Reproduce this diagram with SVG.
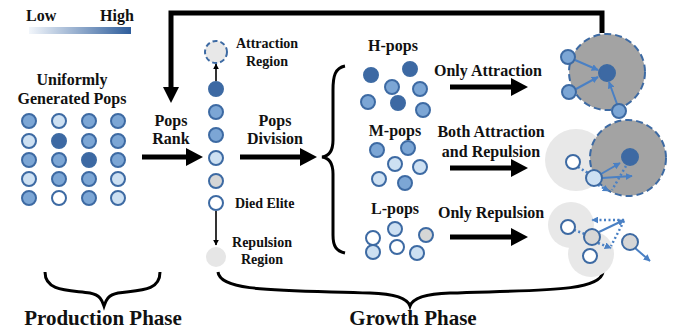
<svg xmlns="http://www.w3.org/2000/svg" width="686" height="334" viewBox="0 0 686 334">
<defs>
<linearGradient id="grad" x1="0" y1="0" x2="1" y2="0">
<stop offset="0" stop-color="#f2f6fb"/>
<stop offset="1" stop-color="#2f5e9c"/>
</linearGradient>
<marker id="ab" viewBox="0 0 10 10" refX="9" refY="5" markerWidth="6" markerHeight="6" orient="auto" markerUnits="userSpaceOnUse"><path d="M0,0 L10,5 L0,10 z" fill="#000"/></marker>
<marker id="ablue" viewBox="0 0 10 10" refX="9" refY="5" markerWidth="7" markerHeight="7" orient="auto" markerUnits="userSpaceOnUse"><path d="M0,0 L10,5 L0,10 z" fill="#4a80c4"/></marker>
</defs>
<style>
text{font-family:"Liberation Serif","Times New Roman",serif;font-weight:bold;fill:#111;}
.t16{font-size:16px;}
.t14{font-size:14px;}
.t21{font-size:21px;}
.p{stroke:#3d6aa3;stroke-width:2;}
.dk{fill:#3d69a3;}
.md{fill:#7ca6d5;}
.lt{fill:#cde0f2;}
.wh{fill:#ffffff;}
.gr{fill:#d6d6d6;}
.big{stroke:#000;stroke-width:5;fill:none;}
.brace{stroke:#000;stroke-width:3;fill:none;}
.ba{stroke:#4a80c4;stroke-width:2;fill:none;}
.bd{stroke:#4a80c4;stroke-width:2.5;fill:none;stroke-dasharray:2 2.5;}
.lreg{fill:#e8e8e8;}
.dreg{fill:#a3a3a3;stroke:#3d6aa3;stroke-width:2;stroke-dasharray:7 4;}
</style>

<g id="legend">
<text class="t16" x="26" y="21">Low</text>
<text class="t16" x="100" y="21">High</text>
<rect x="29" y="27" width="102" height="7" fill="url(#grad)"/>
</g>

<g id="connectors">
<path class="big" d="M602,33 V13 H171 V88"/>
<polygon points="163,87 179,87 171,103" fill="#000"/>
<line class="big" x1="142" y1="157" x2="188" y2="157"/>
<polygon points="186,148 203,157 186,166" fill="#000"/>
<line class="big" x1="240" y1="157" x2="302" y2="157"/>
<polygon points="300,148 317,157 300,166" fill="#000"/>
<line class="big" x1="450" y1="87" x2="513" y2="87"/>
<polygon points="511,78 528,87 511,96" fill="#000"/>
<line class="big" x1="450" y1="168" x2="513" y2="168"/>
<polygon points="511,159 528,168 511,177" fill="#000"/>
<line class="big" x1="450" y1="237" x2="513" y2="237"/>
<polygon points="511,228 528,237 511,246" fill="#000"/>
<line x1="216" y1="81" x2="216" y2="64" stroke="#000" stroke-width="1.6" marker-end="url(#ab)"/>
<line x1="216" y1="211" x2="216" y2="245" stroke="#000" stroke-width="1.6" marker-end="url(#ab)"/>
<path class="brace" d="M345,66 C335,68 333,76 333,90 V140 C333,150 330,156 322,157 C330,158 333,164 333,174 V235 C333,246 336,251 345,253"/>
<path class="brace" d="M45,272 C45,292 70,290 90,293 C100,295 102,300 104,306 C106,300 108,295 118,293 C138,290 160,292 160,272"/>
<path class="brace" d="M218,272 C220,292 280,290 370,293 C400,294 408,300 410,306 C412,300 420,294 450,293 C540,290 600,292 603,272"/>
</g>

<g id="production">
<text class="t16" x="72" y="85" text-anchor="middle">Uniformly</text>
<text class="t16" x="72" y="104" text-anchor="middle">Generated Pops</text>
<g class="p">
<circle class="md" cx="29" cy="121" r="7"/><circle class="lt" cx="59" cy="121" r="7"/><circle class="md" cx="89" cy="121" r="7"/><circle class="md" cx="118" cy="121" r="7"/>
<circle class="lt" cx="29" cy="141" r="7"/><circle class="dk" cx="59" cy="141" r="7"/><circle class="md" cx="89" cy="141" r="7"/><circle class="md" cx="118" cy="141" r="7"/>
<circle class="md" cx="29" cy="160" r="7"/><circle class="md" cx="59" cy="160" r="7"/><circle class="dk" cx="89" cy="160" r="7"/><circle class="md" cx="118" cy="160" r="7"/>
<circle class="lt" cx="29" cy="179" r="7"/><circle class="md" cx="59" cy="179" r="7"/><circle class="md" cx="89" cy="179" r="7"/><circle class="lt" cx="118" cy="179" r="7"/>
<circle class="md" cx="29" cy="198" r="7"/><circle class="wh" cx="59" cy="198" r="7"/><circle class="md" cx="89" cy="198" r="7"/><circle class="lt" cx="118" cy="198" r="7"/>
</g>
<text class="t16" x="171" y="126" text-anchor="middle">Pops</text>
<text class="t16" x="171" y="144" text-anchor="middle">Rank</text>
</g>

<g id="ranking">
<circle cx="216" cy="52" r="11" fill="#e8e8e8" stroke="#3d6aa3" stroke-width="2" stroke-dasharray="5 3"/>
<g class="p">
<circle class="dk" cx="216" cy="89" r="7"/>
<circle class="md" cx="216" cy="112" r="7"/>
<circle class="md" cx="216" cy="135" r="7"/>
<circle class="lt" cx="216" cy="158" r="7"/>
<circle class="gr" cx="216" cy="181" r="7"/>
<circle class="wh" cx="216" cy="203" r="7"/>
</g>
<circle cx="216" cy="257" r="10" fill="#e6e6e6"/>
<text class="t14" x="267" y="48" text-anchor="middle">Attraction</text>
<text class="t14" x="267" y="66" text-anchor="middle">Region</text>
<text class="t14" x="235" y="208">Died Elite</text>
<text class="t14" x="262" y="247" text-anchor="middle">Repulsion</text>
<text class="t14" x="262" y="264" text-anchor="middle">Region</text>
<text class="t16" x="275" y="126" text-anchor="middle">Pops</text>
<text class="t16" x="275" y="144" text-anchor="middle">Division</text>
</g>

<g id="hpops">
<text class="t16" x="393" y="51" text-anchor="middle">H-pops</text>
<g class="p">
<circle class="dk" cx="371" cy="75" r="7"/><circle class="dk" cx="410" cy="69" r="7"/>
<circle class="md" cx="392" cy="87" r="7"/><circle class="md" cx="420" cy="89" r="7"/>
<circle class="md" cx="368" cy="102" r="7"/><circle class="dk" cx="398" cy="103" r="7"/>
<circle class="md" cx="423" cy="110" r="7"/>
</g>
<text class="t16" x="434" y="76">Only Attraction</text>
</g>

<g id="mpops">
<text class="t16" x="395" y="136" text-anchor="middle">M-pops</text>
<g class="p">
<circle class="md" cx="377" cy="150" r="7"/><circle class="md" cx="408" cy="148" r="7"/>
<circle class="lt" cx="395" cy="164" r="7"/><circle class="lt" cx="420" cy="167" r="7"/>
<circle class="lt" cx="379" cy="179" r="7"/><circle class="md" cx="405" cy="183" r="7"/>
</g>
<text class="t16" x="491" y="137" text-anchor="middle">Both Attraction</text>
<text class="t16" x="491" y="157" text-anchor="middle">and Repulsion</text>
</g>

<g id="lpops">
<text class="t16" x="395" y="214" text-anchor="middle">L-pops</text>
<g class="p">
<circle class="wh" cx="373" cy="238" r="7"/><circle class="lt" cx="395" cy="229" r="7"/>
<circle class="gr" cx="426" cy="235" r="7"/><circle class="lt" cx="373" cy="252" r="7"/>
<circle class="wh" cx="397" cy="247" r="7"/><circle class="lt" cx="417" cy="253" r="7"/>
</g>
<text class="t16" x="438" y="218">Only Repulsion</text>
</g>

<g id="attraction-only">
<circle class="dreg" cx="607" cy="72" r="38"/>
<line class="ba" x1="575" y1="60" x2="598" y2="70" marker-end="url(#ablue)"/>
<line class="ba" x1="576" y1="89" x2="598" y2="77" marker-end="url(#ablue)"/>
<line class="ba" x1="617" y1="104" x2="609" y2="82" marker-end="url(#ablue)"/>
<circle class="dk p" cx="607" cy="73" r="8"/>
<g class="p">
<circle class="md" cx="568" cy="57" r="7"/>
<circle class="md" cx="569" cy="92" r="7"/>
<circle class="md" cx="619" cy="111" r="7"/>
</g>
</g>

<g id="attraction-repulsion">
<circle class="lreg" cx="576" cy="160" r="31"/>
<circle class="dreg" cx="628" cy="158" r="38"/>
<circle class="dk p" cx="630" cy="157" r="8"/>
<line class="bd" x1="578" y1="167" x2="588" y2="173"/>
<line class="ba" x1="601" y1="174" x2="620" y2="163" marker-end="url(#ablue)"/>
<line class="ba" x1="602" y1="178" x2="632" y2="176" marker-end="url(#ablue)"/>
<line class="bd" x1="626" y1="166" x2="612" y2="190"/>
<line class="bd" x1="598" y1="185" x2="609" y2="191" marker-end="url(#ablue)"/>
<circle class="wh p" cx="573" cy="162" r="7"/>
<circle class="lt p" cx="594" cy="178" r="8"/>
</g>

<g id="repulsion-only">
<circle class="lreg" cx="571" cy="225" r="23"/>
<circle class="lreg" cx="591" cy="254" r="23"/>
<line class="bd" x1="574" y1="230" x2="585" y2="234"/>
<line class="ba" x1="599" y1="232" x2="624" y2="220" marker-end="url(#ablue)"/>
<line class="bd" x1="624" y1="220" x2="592" y2="220" marker-end="url(#ablue)"/>
<line class="bd" x1="624" y1="221" x2="611" y2="246"/>
<line class="bd" x1="598" y1="243" x2="611" y2="248" marker-end="url(#ablue)"/>
<line class="ba" x1="635" y1="248" x2="650" y2="261" marker-end="url(#ablue)"/>
<circle class="wh p" cx="568" cy="227" r="7"/>
<circle class="gr p" cx="592" cy="237" r="8"/>
<circle class="wh p" cx="590" cy="256" r="7"/>
<circle class="gr p" cx="630" cy="242" r="8"/>
</g>

<g id="phases">
<text class="t21" x="103" y="325" text-anchor="middle">Production Phase</text>
<text class="t21" x="413" y="325" text-anchor="middle">Growth Phase</text>
</g>
</svg>
